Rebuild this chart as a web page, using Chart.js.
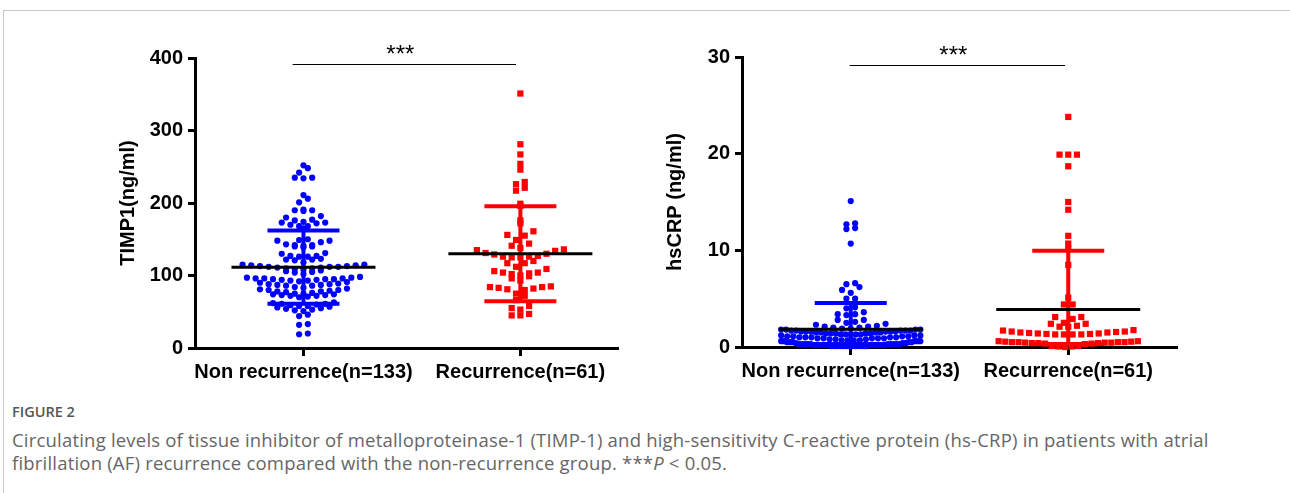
<!DOCTYPE html>
<html>
<head>
<meta charset="utf-8">
<script src="https://cdn.jsdelivr.net/npm/chart.js@4.4.1/dist/chart.umd.min.js"></script>
<style>
  body { margin: 0; background: #fff; width: 1290px; height: 493px; overflow: hidden; position: relative; }
  .frame { position: absolute; left: 3px; top: 10px; width: 1300px; height: 500px;
           border-top: 1px solid #c8c8c8; border-left: 1px solid #c8c8c8; }
  .box { position: absolute; }
  #fig { position: absolute; left: 12px; top: 402px; font: 600 14.5px/19px "Open Sans", sans-serif; color: #555; }
  #cap { position: absolute; left: 12px; top: 428px; font: 400 18.5px/23px "Open Sans", sans-serif; letter-spacing: 0.2px; color: #666; white-space: nowrap; }
</style>
</head>
<body>
<div class="frame"></div>
<div class="box" style="left:100px;top:20px;width:530px;height:372px"><canvas id="timp" width="530" height="372"></canvas></div>
<div class="box" style="left:647px;top:20px;width:540px;height:371px"><canvas id="crp" width="540" height="371"></canvas></div>
<div id="fig">FIGURE 2</div>
<div id="cap">Circulating levels of tissue inhibitor of metalloproteinase-1 (TIMP-1) and high-sensitivity C-reactive protein (hs-CRP) in patients with atrial<br>fibrillation (AF) recurrence compared with the non-recurrence group. ***<i>P</i> &lt; 0.05.</div>
<script>
const groups = ['Non recurrence(n=133)', 'Recurrence(n=61)'];

// TIMP1 (ng/ml)
const timpNon = [
  252, 248, 242, 235, 235, 234, 211, 206, 201, 191, 190, 190, 189, 182, 180, 177, 176, 174, 173, 173, 172, 170, 168, 168, 165,
  150, 149, 148, 148, 146, 143, 142, 142, 141, 140, 140, 139, 131, 130, 127, 127, 126, 126, 123, 122, 122, 121, 118,
  115, 115, 114, 114, 113, 113, 112, 112, 112, 111, 111, 110, 110, 109, 108, 107, 106, 105, 104, 102,
  98, 97, 97, 96, 96, 96, 95, 95, 95, 94, 94, 93, 93, 92, 91, 90, 89, 88, 88, 87, 87, 86, 86,
  84, 83, 82, 81, 80, 80, 79, 78, 78, 77, 76, 75, 75, 74, 74, 73, 73, 72, 72, 71, 70,
  63, 62, 61, 61, 60, 59, 58, 58, 57, 56, 55, 54, 53, 52, 51, 46, 44,
  33, 32, 20, 19
];
const timpRec = [
  351, 281, 267, 254, 246, 229, 226, 221, 217, 199, 196,
  176, 172, 161, 156, 155, 149, 144, 141, 138, 136,
  135, 134, 131, 130, 129, 127, 126, 126, 125, 125,
  120, 117, 117, 112, 109, 106, 104, 104, 103, 102, 100, 99, 96, 93,
  85, 84, 84, 83, 82, 81, 80, 75, 72, 66,
  58, 55, 53, 47, 45, 45
];
const timpMean = [111.5, 130];
const timpSd = [50.5, 65.5];
const timpTicks = [0, 100, 200, 300, 400];

// hsCRP (ng/ml)
const crpNon = [
  15.1, 12.8, 12.7, 12.3, 12.2, 10.7, 6.6, 6.5, 6.2, 5.9, 5.6, 5.0, 5.0, 4.1, 4.0,
  3.6, 3.4, 3.4, 3.3, 2.8, 2.8, 2.6, 2.5, 2.4, 2.3, 2.2, 2.1, 2.1, 2.0, 2.0,
  1.9, 1.9, 1.8, 1.8, 1.8, 1.8, 1.7, 1.7, 1.7, 1.7, 1.7, 1.6, 1.6, 1.6, 1.6, 1.6, 1.6,
  1.5, 1.5, 1.5, 1.5, 1.4, 1.4, 1.4, 1.4, 1.4, 1.3, 1.3, 1.3, 1.3, 1.3, 1.2, 1.2, 1.2,
  1.1, 1.1, 1.1, 1.1, 1.0, 1.0, 1.0, 1.0, 1.0, 0.9, 0.9, 0.9, 0.9, 0.9, 0.8, 0.8, 0.8,
  0.7, 0.7, 0.7, 0.7, 0.6, 0.6, 0.6, 0.6, 0.6, 0.5, 0.5, 0.5, 0.5, 0.5, 0.4, 0.4, 0.4,
  0.3, 0.3, 0.3, 0.3, 0.3, 0.3, 0.3, 0.3, 0.3, 0.3,
  0.2, 0.2, 0.2, 0.2, 0.2, 0.2, 0.2, 0.2, 0.2, 0.2, 0.2, 0.2,
  0.1, 0.1, 0.1, 0.1, 0.1, 0.1, 0.1, 0.1, 0.1, 0.1, 0.1, 0.1, 0.1
];
const crpRec = [
  23.8, 19.9, 19.9, 19.9, 18.7, 15.0, 14.2, 11.5, 10.7, 10.2, 8.5, 5.1, 4.4, 4.4,
  3.1, 3.1, 2.9, 2.5, 2.4, 2.4, 2.2, 2.1, 2.1,
  1.75, 1.7, 1.6, 1.6, 1.55, 1.5, 1.5, 1.45, 1.4, 1.4, 1.35, 1.35, 1.3, 1.3, 1.3, 1.3,
  0.6, 0.6, 0.55, 0.55, 0.5, 0.5, 0.5, 0.5, 0.45, 0.45, 0.45, 0.4, 0.4, 0.4, 0.35, 0.35, 0.3,
  0.1, 0.1, 0.05, 0.05, 0.0
];
const crpMean = [1.83, 3.87];
const crpSd = [2.73, 6.08];
const crpTicks = [0, 10, 20, 30];

const BLUE = '#0000ff', RED = '#ff0000';
const FONT = '"Liberation Sans", Arial, sans-serif';

// mean line, SD bars and the *** bracket
const summary = {
  id: 'summary',
  afterDatasetsDraw(chart, args, o) {
    const { ctx, chartArea } = chart;
    const x = chart.scales.x, y = chart.scales.y;
    ctx.save();
    o.means.forEach((m, i) => {
      const cx = x.getPixelForValue(i + 1);
      const top = y.getPixelForValue(m + o.sds[i]);
      const bot = Math.min(y.getPixelForValue(Math.max(m - o.sds[i], 0)), chartArea.bottom - 3);
      ctx.strokeStyle = chart.data.datasets[i].backgroundColor;
      ctx.lineWidth = 4;
      ctx.beginPath();
      ctx.moveTo(cx, top); ctx.lineTo(cx, bot);
      ctx.moveTo(cx - 36, top); ctx.lineTo(cx + 36, top);
      ctx.moveTo(cx - 36, bot); ctx.lineTo(cx + 36, bot);
      ctx.stroke();
      const my = y.getPixelForValue(m);
      ctx.strokeStyle = '#000';
      ctx.lineWidth = 3;
      ctx.beginPath();
      ctx.moveTo(cx - 72, my); ctx.lineTo(cx + 72, my);
      ctx.stroke();
    });
    const x1 = x.getPixelForValue(o.bracket[0]), x2 = x.getPixelForValue(o.bracket[1]);
    const by = Math.round(y.getPixelForValue(o.bracketAt)) + 0.5;
    ctx.strokeStyle = '#000';
    ctx.lineWidth = 1;
    ctx.beginPath(); ctx.moveTo(x1, by); ctx.lineTo(x2, by); ctx.stroke();
    ctx.fillStyle = '#000';
    ctx.font = '24px ' + FONT;
    ctx.textAlign = 'center';
    ctx.textBaseline = 'alphabetic';
    ctx.fillText('***', (x1 + x2) / 2 - 4, by - 2.5);
    ctx.restore();
  }
};

// Prism-like scatter: bin values into rows, spread each row around the group centre
function swarm(chart, binH) {
  const xs = chart.scales.x, ys = chart.scales.y;
  const step = 8.7, maxN = 17, half = 69.6;
  const y0 = ys.getPixelForValue(0);
  chart.data.datasets.forEach((ds, i) => {
    const cx = xs.getPixelForValue(i + 1);
    const bins = {};
    ds.values.forEach(v => {
      const b = Math.floor((y0 - ys.getPixelForValue(v)) / binH[i] + 1e-6);
      (bins[b] = bins[b] || []).push(v);
    });
    const pts = [];
    Object.values(bins).forEach(row => {
      row.sort((a, b) => a - b);
      const n = row.length;
      const gap = n > maxN ? 2 * half / (n - 1) : step;
      const slots = [];
      for (let k = 0; k < n; k++) slots.push((k - (n - 1) / 2) * gap);
      slots.sort((a, b) => Math.abs(a) - Math.abs(b) || a - b);
      row.forEach((v, k) => pts.push({ x: xs.getValueForPixel(cx + slots[k]), y: v }));
    });
    ds.data = pts;
  });
  chart.update('none');
}

function makeChart(id, series, cfg) {
  const styles = [
    { pointStyle: 'circle', pointRadius: 3.1, backgroundColor: BLUE },
    { pointStyle: 'rect', pointRadius: 4.4, backgroundColor: RED }
  ];
  const chart = new Chart(document.getElementById(id), {
    type: 'scatter',
    data: {
      datasets: series.map((vals, i) => Object.assign({
        values: vals,
        data: vals.map(v => ({ x: i + 1, y: v })),
        borderWidth: 0,
        pointBorderWidth: 0,
        pointHoverRadius: 0,
        clip: 6
      }, styles[i]))
    },
    options: {
      responsive: false,
      animation: false,
      events: [],
      layout: { padding: { top: cfg.padTop, right: cfg.padRight, left: 0, bottom: 0 } },
      plugins: {
        legend: { display: false },
        tooltip: { enabled: false },
        summary: { means: cfg.means, sds: cfg.sds, bracket: cfg.bracket, bracketAt: cfg.bracketAt }
      },
      scales: {
        x: {
          type: 'linear',
          min: 0.5, max: cfg.xMax,
          afterBuildTicks: s => { s.ticks = [{ value: 1 }, { value: 2 }]; },
          afterFit: s => { s.height = 44; },
          ticks: {
            callback: v => groups[v - 1],
            autoSkip: false, maxRotation: 0, minRotation: 0,
            padding: 4, color: '#000',
            font: { family: FONT, size: 20, weight: 'bold' }
          },
          grid: { drawOnChartArea: false, drawTicks: true, tickLength: 8, tickWidth: 3, tickColor: '#000', color: '#000' },
          border: { display: true, color: '#000', width: 3 }
        },
        y: {
          min: cfg.ticks[0], max: cfg.ticks[cfg.ticks.length - 1],
          afterBuildTicks: s => { s.ticks = cfg.ticks.map(v => ({ value: v })); },
          afterFit: s => { s.width = 95; },
          ticks: { padding: 5, color: '#000', font: { family: FONT, size: 20, weight: 'bold' } },
          grid: { drawOnChartArea: false, drawTicks: true, tickLength: 7, tickWidth: 3, tickColor: '#000', color: '#000' },
          border: { display: true, color: '#000', width: 3 },
          title: {
            display: true, text: cfg.title, color: '#000',
            font: { family: FONT, size: 20, weight: 'bold' },
            padding: { top: 16, bottom: 0 }
          }
        }
      }
    },
    plugins: [summary]
  });
  swarm(chart, cfg.binH);
  return chart;
}

makeChart('timp', [timpNon, timpRec], {
  title: 'TIMP1(ng/ml)', ticks: timpTicks, means: timpMean, sds: timpSd,
  xMax: 2.45, padTop: 38, padRight: 12, bracket: [0.95, 1.98], bracketAt: 392, binH: [6, 9]
});
makeChart('crp', [crpNon, crpRec], {
  title: 'hsCRP (ng/ml)', ticks: crpTicks, means: crpMean, sds: crpSd,
  xMax: 2.5, padTop: 37, padRight: 10, bracket: [0.995, 1.985], bracketAt: 29.2, binH: [6, 6]
});
</script>
</body>
</html>
